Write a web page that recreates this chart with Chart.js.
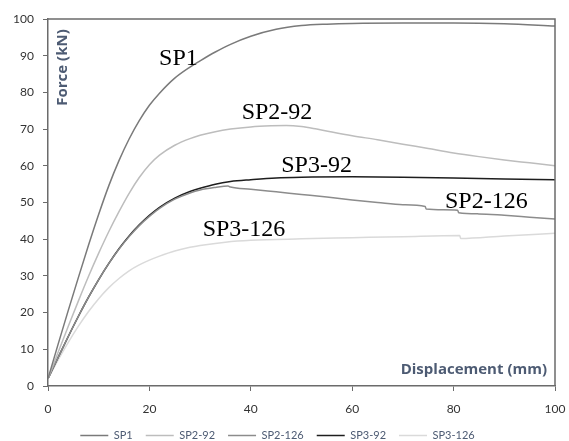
<!DOCTYPE html>
<html>
<head>
<meta charset="utf-8">
<script src="https://cdn.jsdelivr.net/npm/chart.js@4.4.1/dist/chart.umd.min.js"></script>
<style>
  html, body { margin: 0; padding: 0; background: #ffffff; }
  #wrap { width: 569px; height: 441px; position: relative; }
</style>
</head>
<body>
<div id="wrap"><canvas id="c" width="569" height="441"></canvas></div>
<script>
// ---- Data ----
const seriesNames = ['SP1', 'SP2-92', 'SP2-126', 'SP3-92', 'SP3-126'];

const sp1Disp  = [0, 2, 4, 6, 8, 10, 12, 14, 16, 18, 20, 22, 25, 28, 30, 33, 36, 40, 45, 50, 55, 60, 70, 80, 90, 100];
const sp1Force = [2, 11.4, 20.6, 29.6, 38.4, 46.8, 54.6, 61.4, 67.3, 72.3, 76.5, 79.8, 83.9, 86.9, 88.6, 91, 93.1, 95.3, 97.2, 98.2, 98.6, 98.8, 98.9, 98.9, 98.7, 98.1];

const sp292Disp  = [0, 2, 4, 6, 8, 10, 12, 14, 16, 18, 20, 22, 25, 28, 30, 33, 36, 40, 44, 47, 50, 53, 56, 60, 65, 70, 75, 80, 85, 90, 95, 100];
const sp292Force = [2, 9.2, 16.3, 23.2, 29.9, 36.2, 42.1, 47.5, 52.5, 56.8, 60.3, 62.9, 65.6, 67.4, 68.3, 69.3, 70.0, 70.6, 70.9, 71.0, 70.7, 70.0, 69.2, 68.2, 67.1, 65.9, 64.7, 63.5, 62.5, 61.6, 60.8, 60];

const sp2126Disp  = [0, 2, 4, 6, 8, 10, 12, 14, 16, 18, 20, 22, 25, 28, 30, 33, 35.5, 36, 40, 45, 50, 55, 60, 65, 70, 74.4, 74.6, 78, 80.8, 81, 85, 90, 95, 100];
const sp2126Force = [2, 7.8, 13.5, 19, 24.2, 29, 33.4, 37.3, 40.7, 43.7, 46.2, 48.4, 50.9, 52.6, 53.4, 54.1, 54.5, 54.2, 53.6, 52.9, 52.2, 51.5, 50.7, 50, 49.4, 48.9, 48.2, 48, 47.9, 47.2, 46.9, 46.5, 46, 45.5];

const sp392Disp  = [0, 2, 4, 6, 8, 10, 12, 14, 16, 18, 20, 22, 25, 28, 30, 33, 36, 40, 45, 50, 60, 70, 80, 90, 100];
const sp392Force = [2, 7.8, 13.5, 19, 24.2, 29, 33.4, 37.4, 40.9, 43.9, 46.5, 48.7, 51.2, 53.0, 53.9, 55.0, 55.7, 56.2, 56.7, 56.9, 57, 56.9, 56.7, 56.4, 56.2];

const sp3126Disp  = [0, 2, 4, 6, 8, 10, 12, 14, 16, 18, 20, 22, 25, 28, 30, 35, 40, 50, 60, 70, 81.2, 81.4, 90, 100];
const sp3126Force = [2, 7.1, 11.9, 16.3, 20.3, 23.8, 26.8, 29.3, 31.4, 33, 34.3, 35.4, 36.8, 37.8, 38.3, 39.2, 39.7, 40.1, 40.4, 40.7, 41, 40.2, 40.9, 41.6];

const xTicks = [0, 20, 40, 60, 80, 100];
const yTicks = [0, 10, 20, 30, 40, 50, 60, 70, 80, 90, 100];

// in-plot labels (data coordinates of text baseline start)
const annotText = ['SP1', 'SP2-92', 'SP3-92', 'SP2-126', 'SP3-126'];
const annotX    = [21.9, 38.2, 46.0, 78.3, 30.5];
const annotY    = [87.5, 72.8, 58.4, 48.6, 40.9];

// ---- build ----
function pts(xs, ys) { return xs.map((x, i) => ({ x: x, y: ys[i] })); }
const colors = ['#7a7a7a', '#bdbdbd', '#8c8c8c', '#1e1e1e', '#dadada'];
const seriesData = [pts(sp1Disp, sp1Force), pts(sp292Disp, sp292Force), pts(sp2126Disp, sp2126Force), pts(sp392Disp, sp392Force), pts(sp3126Disp, sp3126Force)];

const datasets = seriesNames.map((n, i) => ({
  label: n,
  data: seriesData[i],
  borderColor: colors[i],
  backgroundColor: colors[i],
  borderWidth: 1.5,
  pointRadius: 0,
  showLine: true,
  fill: false,
  cubicInterpolationMode: 'monotone',
  pointStyle: 'line'
}));

const AXIS = '#6b6b6b';
const TITLE = '#4d5b73';

const overlay = {
  id: 'overlay',
  afterDatasetsDraw(chart) {
    const { ctx, chartArea: a, scales: { x, y } } = chart;
    ctx.save();
    ctx.strokeStyle = AXIS;
    ctx.lineWidth = 1.5;
    ctx.beginPath();
    ctx.moveTo(a.left, a.top);
    ctx.lineTo(a.right, a.top);
    ctx.lineTo(a.right, a.bottom);
    ctx.stroke();

    ctx.fillStyle = '#000';
    ctx.font = '24px "Liberation Serif", "Times New Roman", serif';
    ctx.textAlign = 'left';
    ctx.textBaseline = 'alphabetic';
    annotText.forEach((t, i) => {
      ctx.fillText(t, x.getPixelForValue(annotX[i]), y.getPixelForValue(annotY[i]));
    });

    ctx.fillStyle = TITLE;
    ctx.font = 'bold 15px "Open Sans", sans-serif';
    ctx.textAlign = 'right';
    ctx.textBaseline = 'middle';
    ctx.fillText('Displacement (mm)', a.right - 8, a.bottom - 16);

    ctx.translate(a.left + 14.5, a.top + 48.5);
    ctx.rotate(-Math.PI / 2);
    ctx.textAlign = 'center';
    ctx.fillText('Force (kN)', 0, 0);
    ctx.restore();
  }
};

new Chart(document.getElementById('c'), {
  type: 'scatter',
  data: { datasets: datasets },
  options: {
    responsive: false,
    animation: false,
    layout: { padding: { top: 19, right: 14, left: 0, bottom: -10 } },
    plugins: {
      tooltip: { enabled: false },
      legend: {
        position: 'bottom',
        labels: {
          usePointStyle: true,
          pointStyleWidth: 28,
          boxHeight: 11,
          padding: 13,
          color: '#4d5b73',
          font: { family: 'Lato, "Open Sans", sans-serif', size: 11 }
        }
      }
    },
    scales: {
      x: {
        type: 'linear',
        min: 0, max: 100,
        afterBuildTicks: (s) => { s.ticks = xTicks.map(v => ({ value: v })); },
        afterFit: (s) => { s.height = 31; s.paddingRight = 0; s.paddingLeft = 0; },
        grid: { drawOnChartArea: false, drawTicks: true, tickLength: 5, color: AXIS, lineWidth: 1 },
        border: { display: true, color: AXIS, width: 1.5 },
        ticks: { color: '#333', padding: 11, font: { family: 'Lato, sans-serif', size: 12 } }
      },
      y: {
        type: 'linear',
        min: 0, max: 100,
        afterBuildTicks: (s) => { s.ticks = yTicks.map(v => ({ value: v })); },
        afterFit: (s) => { s.width = 48; s.paddingTop = 0; s.paddingBottom = 0; },
        grid: { drawOnChartArea: false, drawTicks: true, tickLength: 5, color: AXIS, lineWidth: 1 },
        border: { display: true, color: AXIS, width: 1.5 },
        ticks: { color: '#333', padding: 9, font: { family: 'Lato, sans-serif', size: 12 } }
      }
    }
  },
  plugins: [overlay]
});
</script>
</body>
</html>
